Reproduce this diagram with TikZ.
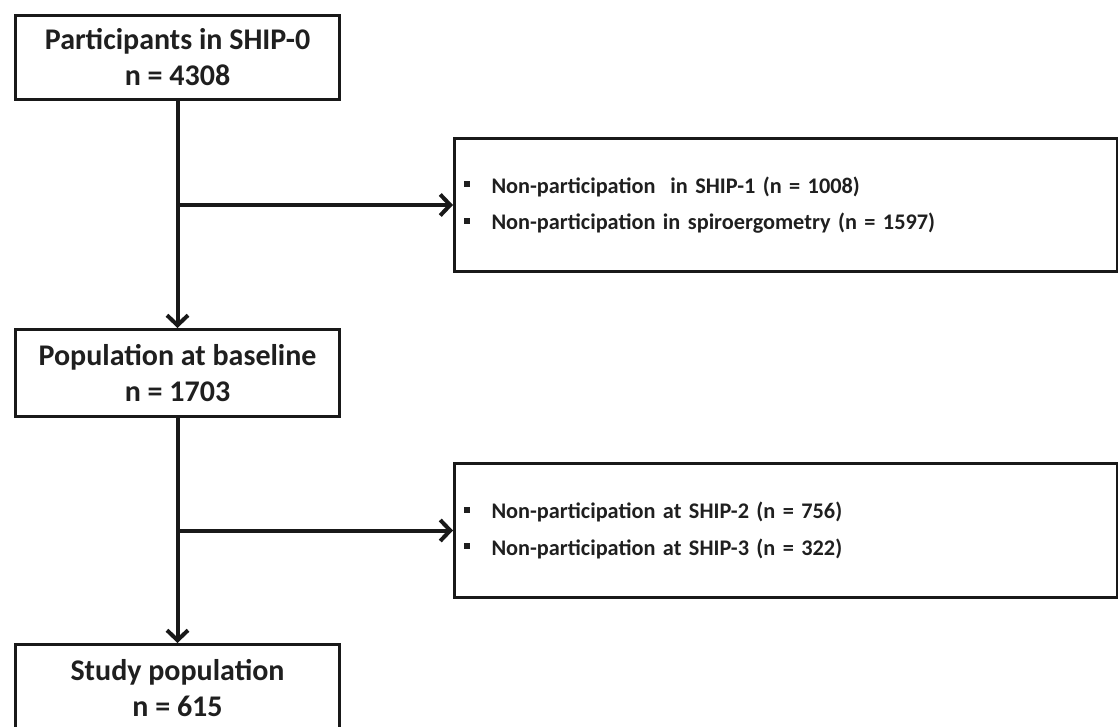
\documentclass[tikz,border=0pt]{standalone}
\usepackage{fontspec}
\setmainfont{Carlito}
\usetikzlibrary{arrows.meta}
\newcommand{\blt}{\makebox[28pt][l]{\rule[6pt]{6pt}{6pt}}}
\begin{document}
\begin{tikzpicture}[x=1pt,y=-1pt,
  box/.style={draw=black!90, line width=3pt, inner sep=0pt, anchor=north west,
    text=black!88, font=\bfseries\fontsize{30}{36}\selectfont, align=center},
  sidebox/.style={box, align=left, inner xsep=9pt, text width=645pt,
    minimum width=663pt, minimum height=133pt,
    font=\bfseries\fontsize{22.3}{36.5}\selectfont},
  arr/.style={draw=black!90, line width=4pt, -{Straight Barb[length=10pt,width=21pt]}}]
\useasboundingbox (0,0) rectangle (1118,727);
\node[box, minimum width=324pt, minimum height=84pt] (b1) at (14,14)
  {Participants in SHIP-0\\n = 4308};
\node[box, minimum width=324pt, minimum height=87pt] (b2) at (14,328)
  {Population at baseline\\n = 1703};
\node[box, minimum width=324pt, minimum height=88pt] (b3) at (14,643)
  {Study population\\n = 615};
\node[sidebox] (r1) at (453,137)
  {\blt Non-participation\ \ in SHIP-1 (n = 1008)\\
   \blt Non-participation in spiroergometry (n = 1597)};
\node[sidebox, minimum height=134pt] (r2) at (453,462)
  {\blt Non-participation at SHIP-2 (n = 756)\\
   \blt Non-participation at SHIP-3 (n = 322)};
\draw[arr] (b1.south) -- (b2.north);
\draw[arr] (b1.south |- r1.west) -- (r1.west);
\draw[arr] (b2.south) -- (b3.north);
\draw[arr] (b2.south |- r2.west) -- (r2.west);
\end{tikzpicture}
\end{document}
